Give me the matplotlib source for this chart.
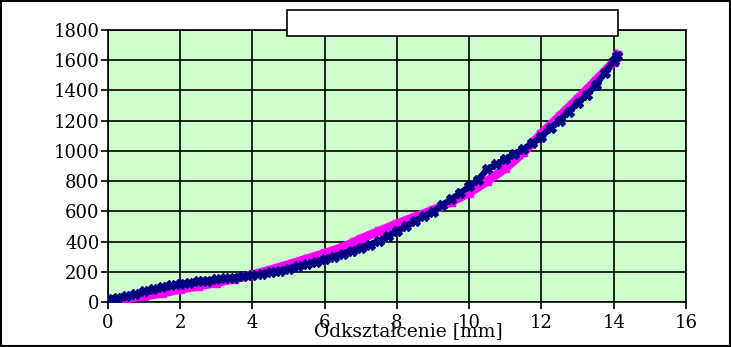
import matplotlib.pyplot as plt
from matplotlib.patches import Rectangle

plt.rcParams['font.family'] = 'DejaVu Serif'

# magenta series (squares)
x_pink = [0, 0.5, 1, 1.5, 2, 2.5, 3, 3.5, 4, 4.5, 5, 5.5, 6, 6.5, 6.8, 7, 7.5, 8,
          8.5, 9, 9.5, 10, 10.5, 11, 11.5, 12, 12.5, 13, 13.5, 14, 14.1]
y_pink = [5, 22, 40, 58, 85, 105, 128, 153, 180, 213, 248, 285, 322, 362, 395, 418,
          468, 518, 563, 608, 663, 723, 800, 885, 990, 1115, 1230, 1345, 1465, 1590, 1635]

# navy series (crosses)
x_navy = [0, 0.25, 0.5, 0.75, 1, 1.25, 1.5, 1.75, 2, 2.25, 2.5, 2.75, 3, 3.25, 3.5,
          3.75, 4, 4.25, 4.5, 4.75, 5, 5.25, 5.5, 5.75, 6, 6.25, 6.5, 6.75, 7, 7.25,
          7.5, 7.75, 8, 8.25, 8.5, 8.75, 9, 9.25, 9.5, 9.75, 10, 10.25, 10.5, 10.75,
          11, 11.25, 11.5, 11.75, 12, 12.25, 12.5, 12.75, 13, 13.25, 13.5, 13.75, 14, 14.1]
y_navy = [20, 28, 40, 52, 72, 85, 102, 110, 122, 127, 140, 142, 150, 156, 162,
          170, 177, 184, 198, 206, 220, 235, 250, 265, 283, 300, 318, 340, 358, 380,
          405, 435, 470, 500, 535, 570, 598, 640, 680, 720, 765, 810, 880, 910,
          945, 980, 1010, 1050, 1095, 1150, 1200, 1260, 1315, 1370, 1435, 1515, 1595, 1630]

xticks = [0, 2, 4, 6, 8, 10, 12, 14, 16]
yticks = [0, 200, 400, 600, 800, 1000, 1200, 1400, 1600, 1800]

fig = plt.figure(figsize=(7.31, 3.47), dpi=100)
ax = fig.add_axes([108/731, 45/347, 578/731, 272/347])
ax.set_facecolor('#CCFFCC')

ax.plot(x_pink, y_pink, color='#FF00FF', lw=6.5, marker='s', ms=6, zorder=3)
ax.plot(x_navy, y_navy, color='#000080', lw=4.5, marker='X', ms=6.5, zorder=4)

ax.set_xlim(0, 16)
ax.set_ylim(0, 1800)
ax.set_xticks(xticks)
ax.set_yticks(yticks)
ax.grid(True, color='black', lw=1.2, zorder=1)
ax.set_axisbelow(True)
for s in ax.spines.values():
    s.set_linewidth(1.2)
ax.tick_params(labelsize=13, length=5, width=1.2, direction='out')
ax.tick_params(axis='y', pad=1)
ax.tick_params(axis='x', pad=4)

fig.text(408/731, 1 - 331/347, 'Odkształcenie [mm]', fontsize=13.5, ha='center', va='center')

# empty legend box
fig.add_artist(Rectangle((287/731, 1 - 36/347), 331/731, 26/347, transform=fig.transFigure,
                         facecolor='white', edgecolor='black', lw=1.2, zorder=5))
# figure border
fig.add_artist(Rectangle((0.001, 0.002), 0.997, 0.995, transform=fig.transFigure,
                         facecolor='none', edgecolor='black', lw=1.5, zorder=5))

fig.savefig('out.png', dpi=100)
